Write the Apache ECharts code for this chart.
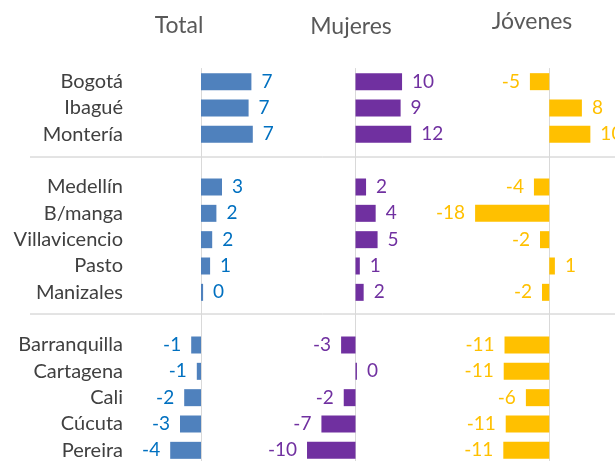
<!DOCTYPE html>
<html>
<head>
<meta charset="utf-8">
<script src="https://cdn.jsdelivr.net/npm/echarts@6/dist/echarts.min.js"></script>
<style>
  html, body { margin: 0; padding: 0; background: #fff; }
  #chart { width: 615px; height: 461px; }
</style>
</head>
<body>
<div id="chart"></div>
<script>
// '' rows are the gaps where the separator lines sit
const cities = ['Bogotá', 'Ibagué', 'Montería', '',
  'Medellín', 'B/manga', 'Villavicencio', 'Pasto', 'Manizales', ' ',
  'Barranquilla', 'Cartagena', 'Cali', 'Cúcuta', 'Pereira']

const totalValues = [7.2, 6.8, 7.4, null, 3.0, 2.2, 1.6, 1.3, 0.3, null, -1.4, -0.6, -2.4, -3.0, -4.4]
const mujeresValues = [9.7, 9.4, 11.6, null, 2.2, 4.2, 4.6, 0.9, 1.7, null, -3.0, 0.3, -2.45, -7.1, -10.1]
const jovenesValues = [-4.8, 8.1, 10.2, null, -3.8, -18.4, -2.3, 1.4, -1.8, null, -11.1, -11.3, -5.8, -10.8, -11.4]

const panelTitles = ['Total', 'Mujeres', 'Jóvenes']

const FONT = 'Lato'
const axisGray = '#d9d9d9'

const chart = echarts.init(document.getElementById('chart'))

// each value gets its label on the outer end of the bar
function toItems(values) {
  return values.map(v => {
    if (v === null) return '-'
    return {
      value: v,
      label: { position: v < 0 ? 'left' : 'right' }
    }
  })
}

function makeSeries(idx, values, barColor, labelColor) {
  return {
    type: 'bar',
    xAxisIndex: idx,
    yAxisIndex: idx,
    barWidth: 17,
    data: toItems(values),
    itemStyle: { color: barColor },
    label: {
      show: true,
      distance: 10,
      color: labelColor,
      fontFamily: FONT,
      fontSize: 19,
      formatter: p => Math.round(p.value)
    },
    silent: true
  }
}

const grids = [
  { left: 131, width: 140, min: -10, max: 10 },
  { left: 259.5, width: 192, min: -20, max: 20 },
  { left: 448.5, width: 201.5, min: -25, max: 25 }
]

const option = {
  animation: false,
  title: [
    { text: panelTitles[0], left: 174, top: 9 },
    { text: panelTitles[1], left: 346, top: 10 },
    { text: panelTitles[2], left: 527, top: 5 }
  ].map(t => Object.assign(t, {
    textAlign: 'center',
    textStyle: { fontFamily: FONT, fontSize: 23, fontWeight: 'normal', color: '#595959' }
  })),
  grid: grids.map(g => ({
    left: g.left,
    width: g.width,
    top: 68.5,
    height: 395,
    containLabel: false,
    outerBoundsMode: 'none'
  })),
  xAxis: grids.map((g, i) => ({
    type: 'value',
    gridIndex: i,
    min: g.min,
    max: g.max,
    show: false
  })),
  yAxis: grids.map((g, i) => ({
    type: 'category',
    gridIndex: i,
    data: cities,
    inverse: true,
    axisTick: { show: false },
    axisLine: { onZero: true, lineStyle: { color: axisGray, width: 1 } },
    axisLabel: {
      show: i === 0,
      margin: 8,
      color: '#404040',
      fontFamily: FONT,
      fontSize: 20
    },
    splitLine: { show: false }
  })),
  series: [
    makeSeries(0, totalValues, '#4f81bd', '#0070c0'),
    makeSeries(1, mujeresValues, '#7030a0', '#7030a0'),
    makeSeries(2, jovenesValues, '#ffc000', '#ffc000')
  ],
  graphic: [
    { type: 'line', shape: { x1: 30, y1: 157, x2: 615, y2: 157 }, style: { stroke: '#c8c8c8', lineWidth: 1 } },
    { type: 'line', shape: { x1: 30, y1: 314, x2: 615, y2: 314 }, style: { stroke: '#c8c8c8', lineWidth: 1 } }
  ]
}

chart.setOption(option)
</script>
</body>
</html>
